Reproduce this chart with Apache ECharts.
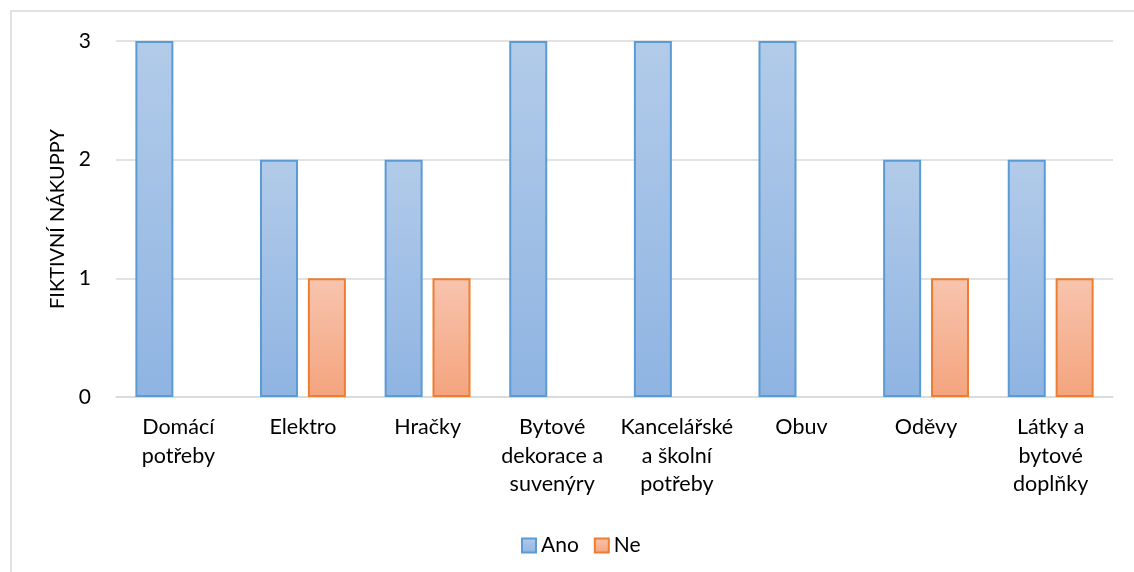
<!DOCTYPE html>
<html>
<head>
<meta charset="utf-8">
<script src="https://cdn.jsdelivr.net/npm/echarts@6/dist/echarts.min.js"></script>
<style>
  html, body { margin: 0; padding: 0; background: #fff; }
  #chart { width: 1134px; height: 572px; }
</style>
</head>
<body>
<div id="chart"></div>
<script>
// Kategorie zboží a počty nákupů
const categories = [
  'Domácí\npotřeby',
  'Elektro',
  'Hračky',
  'Bytové\ndekorace a\nsuvenýry',
  'Kancelářské\na školní\npotřeby',
  'Obuv',
  'Oděvy',
  'Látky a\nbytové\ndoplňky'
];
const anoValues = [3, 2, 2, 3, 3, 3, 2, 2];
const neValues = [0, 1, 1, 0, 0, 0, 1, 1];
const yTicks = [0, 1, 2, 3];

const FONT = 'Lato, "Open Sans", sans-serif';

const chart = echarts.init(document.getElementById('chart'));

function grad(top, bottom) {
  return new echarts.graphic.LinearGradient(0, 0, 0, 1, [
    { offset: 0, color: top },
    { offset: 1, color: bottom }
  ]);
}

// zero-height bars get no outline
function barData(values) {
  return values.map(v => (v === 0 ? { value: v, itemStyle: { borderWidth: 0 } } : v));
}

chart.setOption({
  animation: false,
  backgroundColor: '#fff',
  graphic: [{
    type: 'rect',
    shape: { x: 11, y: 11, width: 1140, height: 580 },
    style: { fill: 'none', stroke: '#d9d9d9', lineWidth: 1.5 },
    silent: true,
    z: -1
  }],
  grid: { left: 116, right: 21, top: 41, bottom: 175, containLabel: false },
  legend: {
    data: ['Ano', 'Ne'],
    icon: 'rect',
    top: 530,
    left: 516,
    itemWidth: 14,
    itemHeight: 14,
    itemGap: 15,
    textStyle: { fontFamily: FONT, fontSize: 21, color: '#000' }
  },
  xAxis: {
    type: 'category',
    data: categories,
    axisTick: { show: false },
    axisLine: { show: true, lineStyle: { color: '#d9d9d9', width: 1.5 } },
    axisLabel: {
      interval: 0,
      margin: 16,
      fontFamily: FONT,
      fontSize: 21.5,
      lineHeight: 28.5,
      color: '#000'
    }
  },
  yAxis: {
    type: 'value',
    min: 0,
    max: 3,
    interval: 1,
    name: 'FIKTIVNÍ NÁKUPPY',
    nameLocation: 'middle',
    nameRotate: 90,
    nameGap: 47,
    nameTextStyle: { fontFamily: FONT, fontSize: 20, color: '#000' },
    axisLine: { show: false },
    axisTick: { show: false },
    axisLabel: {
      margin: 25,
      fontFamily: FONT,
      fontSize: 21,
      color: '#000',
      formatter: v => (yTicks.includes(v) ? String(v) : '')
    },
    splitLine: { lineStyle: { color: '#d9d9d9', width: 1.5 } }
  },
  series: [
    {
      name: 'Ano',
      type: 'bar',
      data: barData(anoValues),
      barWidth: 38,
      barGap: '26%',
      itemStyle: {
        color: grad('#b2cbe9', '#8fb4e2'),
        borderColor: '#5b9bd5',
        borderWidth: 2
      }
    },
    {
      name: 'Ne',
      type: 'bar',
      data: barData(neValues),
      barWidth: 38,
      itemStyle: {
        color: grad('#f8c4ae', '#f4a47e'),
        borderColor: '#ed7d31',
        borderWidth: 2
      }
    }
  ]
});
</script>
</body>
</html>
